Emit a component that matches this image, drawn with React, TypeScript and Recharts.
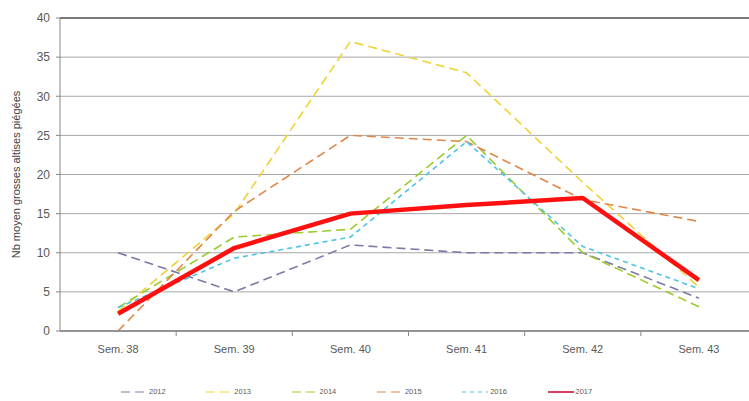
import React from 'react';
import { LineChart, Line, XAxis, YAxis, CartesianGrid, ReferenceLine, Legend, Label } from 'recharts';

const weeks = ['Sem. 38', 'Sem. 39', 'Sem. 40', 'Sem. 41', 'Sem. 42', 'Sem. 43'];
const s2012 = [10, 5, 11, 10, 10, 4.2];
const s2013 = [2.5, 15, 37, 33, 19, 5.6];
const s2014 = [3, 12, 13, 25, 10, 3.1];
const s2015 = [0, 15.3, 25, 24.2, 16.8, 14];
const s2016 = [3, 9.3, 12, 24.2, 10.8, 5.4];
const s2017 = [2.2, 10.6, 15, 16.1, 17, 6.5];
const yTicks = [0, 5, 10, 15, 20, 25, 30, 35, 40];

const series = [
  { key: 'y2012', name: '2012', values: s2012, color: '#7a7aa6', dash: '9 5', width: 1.6 },
  { key: 'y2013', name: '2013', values: s2013, color: '#f0d236', dash: '9 5', width: 1.6 },
  { key: 'y2014', name: '2014', values: s2014, color: '#9ccb2e', dash: '9 5', width: 1.6 },
  { key: 'y2015', name: '2015', values: s2015, color: '#df8748', dash: '9 5', width: 1.6 },
  { key: 'y2016', name: '2016', values: s2016, color: '#4cc4e4', dash: '5 4', width: 1.6 },
  { key: 'y2017', name: '2017', values: s2017, color: '#ff1010', dash: undefined, width: 4.5 },
];

const data = weeks.map((w, i) => {
  const row: any = { week: w };
  series.forEach((s) => { row[s.key] = s.values[i]; });
  return row;
});

const FONT = '"Liberation Sans", Arial, sans-serif';
const X_TICK_MARGIN = 14;

const XTick = (props: any) => {
  const { x, y, payload, width, visibleTicksCount, index } = props;
  const count = visibleTicksCount || weeks.length;
  const band = (Number(width) || 697) / count;
  const axisY = y - X_TICK_MARGIN;
  return (
    <g>
      <text x={x} y={y} dy={8} textAnchor="middle" fill="#595959" fontSize={11} fontFamily={FONT}>
        {payload.value}
      </text>
      {index < count - 1 && (
        <line x1={x + band / 2} x2={x + band / 2} y1={axisY} y2={axisY + 5} stroke="#868686" strokeWidth={1} />
      )}
    </g>
  );
};

const LegendContent = () => (
  <div style={{ position: 'relative', height: 16, width: 749, fontFamily: FONT }}>
    {series.map((s, i) => (
      <div
        key={s.key}
        style={{
          position: 'absolute',
          left: 121 + i * 85.3,
          top: 0,
          height: 16,
          display: 'flex',
          alignItems: 'center',
        }}
      >
        <svg width={26} height={8} style={{ display: 'block' }}>
          <line
            x1={0}
            x2={26}
            y1={4}
            y2={4}
            stroke={s.key === 'y2017' ? '#d0103a' : s.color}
            strokeWidth={s.key === 'y2017' ? 1.6 : 1.2}
            strokeDasharray={s.dash ? (s.key === 'y2016' ? '4 4' : '9 5') : undefined}
          />
        </svg>
        <span style={{ fontSize: 7.5, color: '#595959', marginLeft: 2, lineHeight: '16px' }}>{s.name}</span>
      </div>
    ))}
  </div>
);

export default function App() {
  return (
    <div style={{ position: 'absolute', left: 0, top: 0, width: 749, height: 401, overflow: 'hidden', background: '#fff' }}>
      <LineChart width={760} height={401} data={data} margin={{ top: 18, right: 3, left: 0, bottom: 1 }}>
        <CartesianGrid vertical={false} stroke="#a8a8a8" strokeWidth={1} />
        <XAxis
          dataKey="week"
          scale="band"
          height={53}
          axisLine={{ stroke: '#7f7f7f', strokeWidth: 1.5 }}
          tickLine={false}
          tickSize={0}
          tickMargin={X_TICK_MARGIN}
          tick={<XTick />}
          interval={0}
        />
        <YAxis
          width={60}
          domain={[0, 40]}
          ticks={yTicks}
          interval={0}
          axisLine={{ stroke: '#868686' }}
          tickLine={{ stroke: '#868686' }}
          tickSize={4}
          tickMargin={6}
          tick={{ fill: '#595959', fontSize: 12, fontFamily: FONT }}
        >
          <Label
            value="Nb moyen grosses altises piégées"
            angle={-90}
            position="insideLeft"
            offset={16}
            style={{ fill: '#404040', fontSize: 11, fontFamily: FONT, textAnchor: 'middle' }}
          />
        </YAxis>
        <ReferenceLine y={40} stroke="#5a5a5a" strokeWidth={1.6} />
        {series.map((s) => (
          <Line
            key={s.key}
            dataKey={s.key}
            name={s.name}
            type="linear"
            stroke={s.color}
            strokeWidth={s.width}
            strokeDasharray={s.dash}
            dot={false}
            activeDot={false}
            isAnimationActive={false}
            strokeLinejoin="round"
          />
        ))}
        <Legend verticalAlign="bottom" height={16} content={<LegendContent />} wrapperStyle={{ left: 0, width: 749 }} />
      </LineChart>
    </div>
  );
}
